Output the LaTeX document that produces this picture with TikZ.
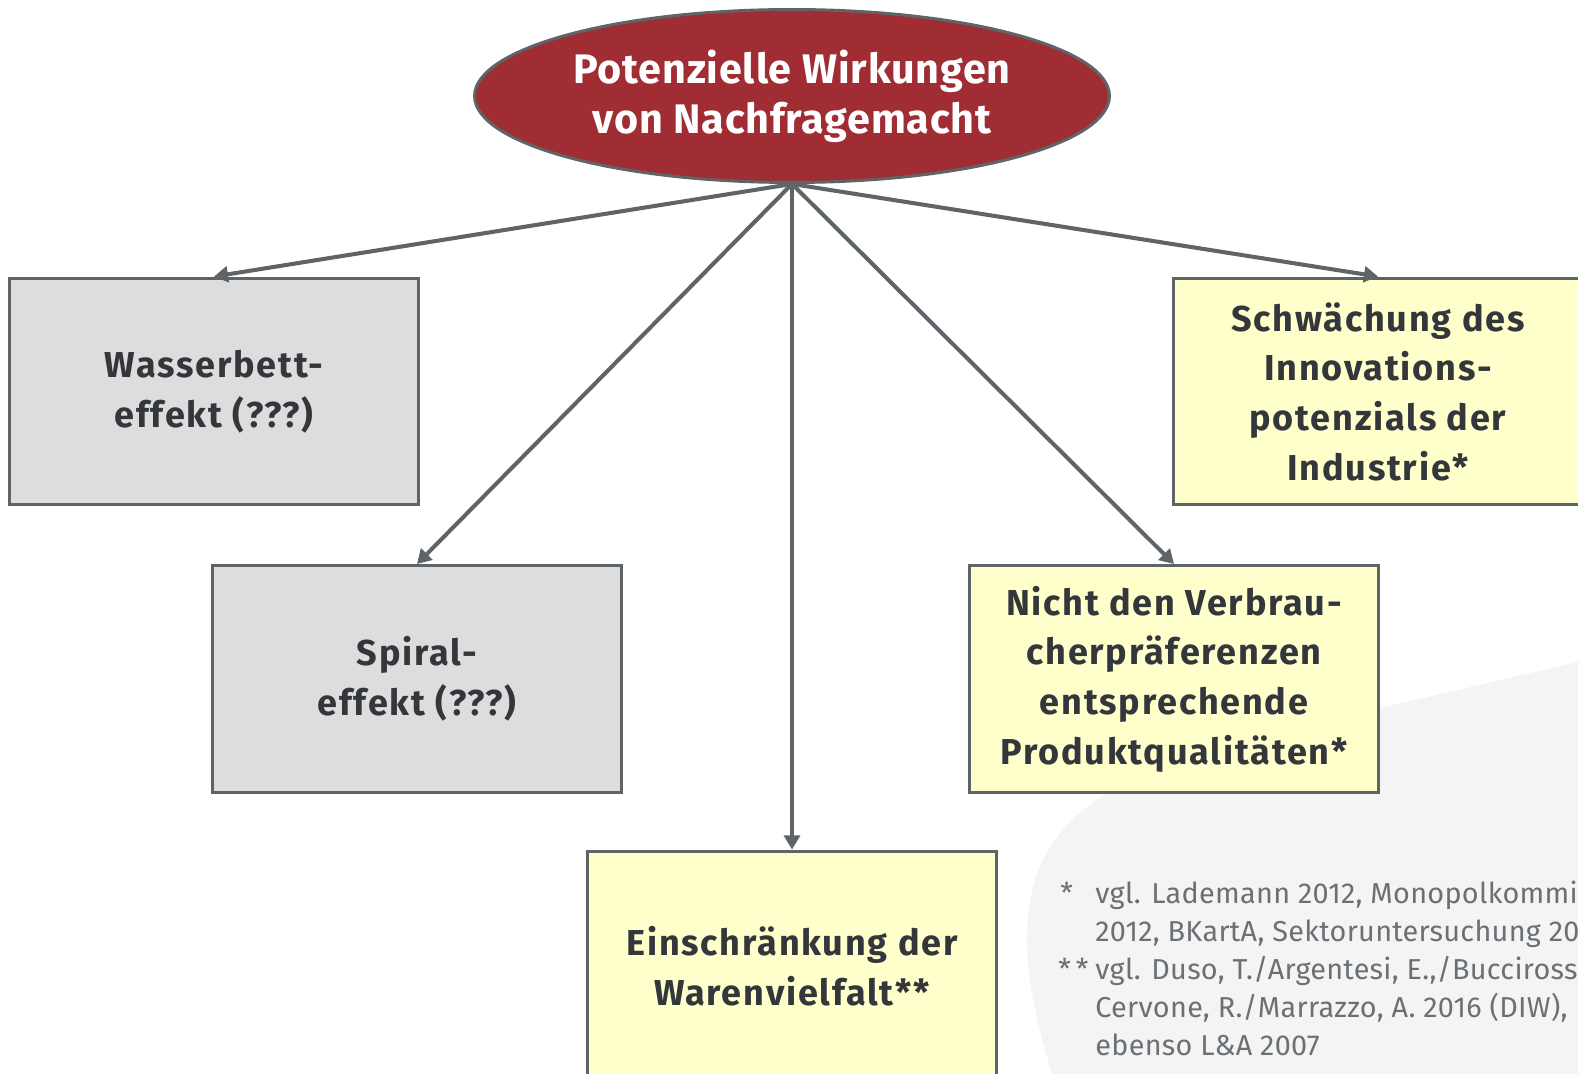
\documentclass[tikz,border=0pt]{standalone}
\usepackage{fontspec}
\setmainfont{Fira Sans}
\newfontfamily\boxfont[LetterSpace=5]{Fira Sans}
\newfontfamily\titlefont[LetterSpace=2]{Fira Sans}
\newfontfamily\notefont[LetterSpace=1]{Fira Sans}
\usetikzlibrary{shapes.geometric,arrows.meta}
\definecolor{edgegray}{HTML}{5F6469}
\definecolor{txtdark}{HTML}{33373B}
\definecolor{titlered}{HTML}{A02D34}
\definecolor{boxgray}{HTML}{DDDDDE}
\definecolor{boxyellow}{HTML}{FFFFCC}
\definecolor{blobgray}{HTML}{F4F4F4}
\definecolor{notegray}{HTML}{6B7075}
\tikzset{
  box/.style={draw=edgegray, line width=1.7pt, rectangle, minimum width=8.2cm, minimum height=4.54cm,
    align=center, text=txtdark, font=\boxfont\fontsize{20.5}{28.3}\selectfont\bfseries, inner sep=0pt},
  graybox/.style={box, fill=boxgray},
  yellowbox/.style={box, fill=boxyellow},
  titleell/.style={ellipse, draw=edgegray, line width=1.7pt, fill=titlered, minimum width=12.7cm,
    minimum height=3.46cm, inner sep=0pt, align=center, text=white, font=\titlefont\fontsize{23.5}{28.5}\selectfont\bfseries},
  arr/.style={draw=edgegray, line width=2.3pt, -{Triangle[length=8pt,width=9pt]}},
  note/.style={anchor=base west, inner sep=0pt, text=notegray, font=\notefont\fontsize{16.4}{21.4}\selectfont}
}
\begin{document}
\begin{tikzpicture}[x=0.02cm,y=-0.02cm]
\useasboundingbox (0,0) rectangle (1578,1074);
\clip (0,0) rectangle (1578,1074);
% background blob
\fill[blobgray] (1052,1074) .. controls (1030,1000) and (1018,940) .. (1035,880)
  .. controls (1060,800) and (1150,752) .. (1350,715) -- (1578,662) -- (1578,1074) -- cycle;
% title
\node[titleell] (top) at (792,96) {Potenzielle Wirkungen\\von Nachfragemacht};
% boxes
\node[graybox] (wasser) at (214,391.5) {Wasserbett-\\effekt (???)};
\node[graybox] (spiral) at (417,679) {Spiral-\\effekt (???)};
\node[yellowbox, minimum height=4.6cm] (einschr) at (792,966) {Einschränkung der\\Warenvielfalt**};
\node[yellowbox] (nicht) at (1174,679) {Nicht den Verbrau-\\cherpräferenzen\\entsprechende\\Produktqualitäten*};
\node[yellowbox] (schw) at (1378,391.5) {Schwächung des\\Innovations-\\potenzials der\\Industrie*};
% arrows
\draw[arr] (top.south) -- (wasser.north);
\draw[arr] (top.south) -- (spiral.north);
\draw[arr] (top.south) -- (einschr.north);
\draw[arr] (top.south) -- (nicht.north);
\draw[arr] (top.south) -- (schw.north);
% footnotes
\node[note] (s1) at (1060,903) {*};
\node[note] (n1) at (1095,903) {vgl. Lademann 2012, Monopolkommis};
\node[note] (n2) at (1095,941) {2012, BKartA, Sektoruntersuchung 20};
\node[note] (s2) at (1058,979) {*\,*};
\node[note] (n3) at (1095,979) {vgl. Duso, T./Argentesi, E.,/Buccirosst};
\node[note] (n4) at (1095,1017) {Cervone, R./Marrazzo, A. 2016 (DIW),};
\node[note] (n5) at (1095,1055) {ebenso L\&A 2007};
\end{tikzpicture}
\end{document}
